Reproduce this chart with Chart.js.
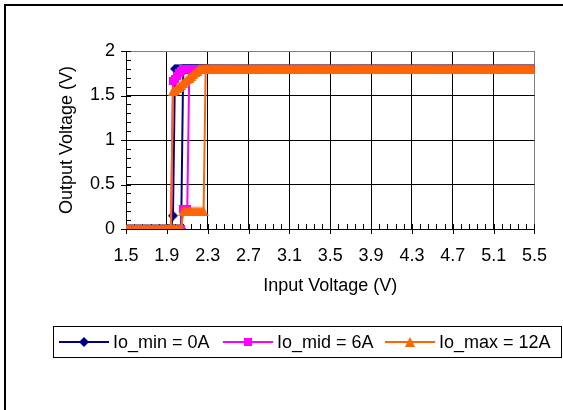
<!DOCTYPE html>
<html>
<head>
<meta charset="utf-8">
<script src="https://cdn.jsdelivr.net/npm/chart.js@4.4.1/dist/chart.umd.min.js"></script>
<style>
  html, body { margin: 0; padding: 0; background: #fff; }
  canvas { display: block; }
</style>
</head>
<body>
<canvas id="uvloChart" width="563" height="410"></canvas>
<script>
// input voltage, rising sweep (V)
const vinUp = [
  1.50, 1.52, 1.54, 1.56, 1.58, 1.60, 1.62, 1.64, 1.66, 1.68,
  1.70, 1.72, 1.74, 1.76, 1.78, 1.80, 1.82, 1.84, 1.86, 1.88,
  1.90, 1.92, 1.94, 1.96, 1.98, 2.00, 2.02, 2.04, 2.06, 2.08,
  2.10, 2.12, 2.14, 2.16, 2.18, 2.20, 2.22, 2.24, 2.26, 2.28,
  2.30, 2.32, 2.34, 2.36, 2.38, 2.40, 2.42, 2.44, 2.46, 2.48,
  2.50, 2.52, 2.54, 2.56, 2.58, 2.60, 2.62, 2.64, 2.66, 2.68,
  2.70, 2.72, 2.74, 2.76, 2.78, 2.80, 2.82, 2.84, 2.86, 2.88,
  2.90, 2.92, 2.94, 2.96, 2.98, 3.00, 3.02, 3.04, 3.06, 3.08,
  3.10, 3.12, 3.14, 3.16, 3.18, 3.20, 3.22, 3.24, 3.26, 3.28,
  3.30, 3.32, 3.34, 3.36, 3.38, 3.40, 3.42, 3.44, 3.46, 3.48,
  3.50, 3.52, 3.54, 3.56, 3.58, 3.60, 3.62, 3.64, 3.66, 3.68,
  3.70, 3.72, 3.74, 3.76, 3.78, 3.80, 3.82, 3.84, 3.86, 3.88,
  3.90, 3.92, 3.94, 3.96, 3.98, 4.00, 4.02, 4.04, 4.06, 4.08,
  4.10, 4.12, 4.14, 4.16, 4.18, 4.20, 4.22, 4.24, 4.26, 4.28,
  4.30, 4.32, 4.34, 4.36, 4.38, 4.40, 4.42, 4.44, 4.46, 4.48,
  4.50, 4.52, 4.54, 4.56, 4.58, 4.60, 4.62, 4.64, 4.66, 4.68,
  4.70, 4.72, 4.74, 4.76, 4.78, 4.80, 4.82, 4.84, 4.86, 4.88,
  4.90, 4.92, 4.94, 4.96, 4.98, 5.00, 5.02, 5.04, 5.06, 5.08,
  5.10, 5.12, 5.14, 5.16, 5.18, 5.20, 5.22, 5.24, 5.26, 5.28,
  5.30, 5.32, 5.34, 5.36, 5.38, 5.40, 5.42, 5.44, 5.46, 5.48,
  5.50
];

// input voltage, falling sweep through the hysteresis window (V)
const vinDown = [2.30, 2.28, 2.26, 2.24, 2.22, 2.20, 2.18, 2.16, 2.14, 2.12, 2.10,
                 2.08, 2.06, 2.04, 2.02, 2.00, 1.98, 1.96, 1.94, 1.92, 1.90];

// output voltage (V) - rising sweep
const ioMinUp = [
  0, 0, 0, 0, 0, 0, 0, 0, 0, 0,
  0, 0, 0, 0, 0, 0, 0, 0, 0, 0,
  0, 0, 0, 0, 0, 0, 0, 0, 1.8, 1.8,
  1.8, 1.8, 1.8, 1.8, 1.8, 1.8, 1.8, 1.8, 1.8, 1.8,
  1.8, 1.8, 1.8, 1.8, 1.8, 1.8, 1.8, 1.8, 1.8, 1.8,
  1.8, 1.8, 1.8, 1.8, 1.8, 1.8, 1.8, 1.8, 1.8, 1.8,
  1.8, 1.8, 1.8, 1.8, 1.8, 1.8, 1.8, 1.8, 1.8, 1.8,
  1.8, 1.8, 1.8, 1.8, 1.8, 1.8, 1.8, 1.8, 1.8, 1.8,
  1.8, 1.8, 1.8, 1.8, 1.8, 1.8, 1.8, 1.8, 1.8, 1.8,
  1.8, 1.8, 1.8, 1.8, 1.8, 1.8, 1.8, 1.8, 1.8, 1.8,
  1.8, 1.8, 1.8, 1.8, 1.8, 1.8, 1.8, 1.8, 1.8, 1.8,
  1.8, 1.8, 1.8, 1.8, 1.8, 1.8, 1.8, 1.8, 1.8, 1.8,
  1.8, 1.8, 1.8, 1.8, 1.8, 1.8, 1.8, 1.8, 1.8, 1.8,
  1.8, 1.8, 1.8, 1.8, 1.8, 1.8, 1.8, 1.8, 1.8, 1.8,
  1.8, 1.8, 1.8, 1.8, 1.8, 1.8, 1.8, 1.8, 1.8, 1.8,
  1.8, 1.8, 1.8, 1.8, 1.8, 1.8, 1.8, 1.8, 1.8, 1.8,
  1.8, 1.8, 1.8, 1.8, 1.8, 1.8, 1.8, 1.8, 1.8, 1.8,
  1.8, 1.8, 1.8, 1.8, 1.8, 1.8, 1.8, 1.8, 1.8, 1.8,
  1.8, 1.8, 1.8, 1.8, 1.8, 1.8, 1.8, 1.8, 1.8, 1.8,
  1.8, 1.8, 1.8, 1.8, 1.8, 1.8, 1.8, 1.8, 1.8, 1.8,
  1.8
];
const ioMidUp = [
  0, 0, 0, 0, 0, 0, 0, 0, 0, 0,
  0, 0, 0, 0, 0, 0, 0, 0, 0, 0,
  0, 0, 0, 0, 0, 0, 0, 0, 0.23, 0.23,
  0.23, 1.8, 1.8, 1.8, 1.8, 1.8, 1.8, 1.8, 1.8, 1.8,
  1.8, 1.8, 1.8, 1.8, 1.8, 1.8, 1.8, 1.8, 1.8, 1.8,
  1.8, 1.8, 1.8, 1.8, 1.8, 1.8, 1.8, 1.8, 1.8, 1.8,
  1.8, 1.8, 1.8, 1.8, 1.8, 1.8, 1.8, 1.8, 1.8, 1.8,
  1.8, 1.8, 1.8, 1.8, 1.8, 1.8, 1.8, 1.8, 1.8, 1.8,
  1.8, 1.8, 1.8, 1.8, 1.8, 1.8, 1.8, 1.8, 1.8, 1.8,
  1.8, 1.8, 1.8, 1.8, 1.8, 1.8, 1.8, 1.8, 1.8, 1.8,
  1.8, 1.8, 1.8, 1.8, 1.8, 1.8, 1.8, 1.8, 1.8, 1.8,
  1.8, 1.8, 1.8, 1.8, 1.8, 1.8, 1.8, 1.8, 1.8, 1.8,
  1.8, 1.8, 1.8, 1.8, 1.8, 1.8, 1.8, 1.8, 1.8, 1.8,
  1.8, 1.8, 1.8, 1.8, 1.8, 1.8, 1.8, 1.8, 1.8, 1.8,
  1.8, 1.8, 1.8, 1.8, 1.8, 1.8, 1.8, 1.8, 1.8, 1.8,
  1.8, 1.8, 1.8, 1.8, 1.8, 1.8, 1.8, 1.8, 1.8, 1.8,
  1.8, 1.8, 1.8, 1.8, 1.8, 1.8, 1.8, 1.8, 1.8, 1.8,
  1.8, 1.8, 1.8, 1.8, 1.8, 1.8, 1.8, 1.8, 1.8, 1.8,
  1.8, 1.8, 1.8, 1.8, 1.8, 1.8, 1.8, 1.8, 1.8, 1.8,
  1.8, 1.8, 1.8, 1.8, 1.8, 1.8, 1.8, 1.8, 1.8, 1.8,
  1.8
];
const ioMaxUp = [
  0, 0, 0, 0, 0, 0, 0, 0, 0, 0,
  0, 0, 0, 0, 0, 0, 0, 0, 0, 0,
  0, 0, 0, 0, 0, 0, 0, 0, 0.2, 0.2,
  0.2, 0.2, 0.2, 0.2, 0.2, 0.2, 0.2, 0.2, 0.2, 1.8,
  1.8, 1.8, 1.8, 1.8, 1.8, 1.8, 1.8, 1.8, 1.8, 1.8,
  1.8, 1.8, 1.8, 1.8, 1.8, 1.8, 1.8, 1.8, 1.8, 1.8,
  1.8, 1.8, 1.8, 1.8, 1.8, 1.8, 1.8, 1.8, 1.8, 1.8,
  1.8, 1.8, 1.8, 1.8, 1.8, 1.8, 1.8, 1.8, 1.8, 1.8,
  1.8, 1.8, 1.8, 1.8, 1.8, 1.8, 1.8, 1.8, 1.8, 1.8,
  1.8, 1.8, 1.8, 1.8, 1.8, 1.8, 1.8, 1.8, 1.8, 1.8,
  1.8, 1.8, 1.8, 1.8, 1.8, 1.8, 1.8, 1.8, 1.8, 1.8,
  1.8, 1.8, 1.8, 1.8, 1.8, 1.8, 1.8, 1.8, 1.8, 1.8,
  1.8, 1.8, 1.8, 1.8, 1.8, 1.8, 1.8, 1.8, 1.8, 1.8,
  1.8, 1.8, 1.8, 1.8, 1.8, 1.8, 1.8, 1.8, 1.8, 1.8,
  1.8, 1.8, 1.8, 1.8, 1.8, 1.8, 1.8, 1.8, 1.8, 1.8,
  1.8, 1.8, 1.8, 1.8, 1.8, 1.8, 1.8, 1.8, 1.8, 1.8,
  1.8, 1.8, 1.8, 1.8, 1.8, 1.8, 1.8, 1.8, 1.8, 1.8,
  1.8, 1.8, 1.8, 1.8, 1.8, 1.8, 1.8, 1.8, 1.8, 1.8,
  1.8, 1.8, 1.8, 1.8, 1.8, 1.8, 1.8, 1.8, 1.8, 1.8,
  1.8, 1.8, 1.8, 1.8, 1.8, 1.8, 1.8, 1.8, 1.8, 1.8,
  1.8
];

// output voltage (V) - falling sweep
const ioMinDown = [1.8, 1.8, 1.8, 1.8, 1.8, 1.8, 1.8, 1.8, 1.8, 1.8, 1.8,
                   1.8, 1.8, 1.8, 1.8, 1.8, 1.8, 0.15, 0, 0, 0];
const ioMidDown = [1.8, 1.8, 1.8, 1.8, 1.8, 1.8, 1.8, 1.8, 1.8, 1.8, 1.8,
                   1.8, 1.8, 1.78, 1.75, 1.72, 1.69, 1.66, 0, 0, 0];
const ioMaxDown = [1.8, 1.8, 1.8, 1.8, 1.8, 1.78, 1.76, 1.74, 1.72, 1.70, 1.68,
                   1.66, 1.64, 1.62, 1.60, 1.58, 1.56, 1.55, 0, 0, 0];

const seriesNames = ['Io_min = 0A', 'Io_mid = 6A', 'Io_max = 12A'];
const xTicks = [1.5, 1.9, 2.3, 2.7, 3.1, 3.5, 3.9, 4.3, 4.7, 5.1, 5.5];
const yTicks = [0, 0.5, 1, 1.5, 2];

const FONT = 'Liberation Sans, Arial, sans-serif';
const NAVY = '#000080';
const PINK = '#FF00FF';
const ORANGE = '#FF6600';

function sweep(yUp, yDown) {
    const up = vinUp.map((v, i) => ({ x: v, y: yUp[i] }));
    const down = vinDown.map((v, i) => ({ x: v, y: yDown[i] }));
    return up.concat(down);
}

// Excel markers are centred on their bounding box, so build them as little canvases
function makeMarker(shape, color) {
    const c = document.createElement('canvas');
    const size = shape === 'square' ? 8 : 10;
    c.width = size;
    c.height = size;
    const g = c.getContext('2d');
    g.fillStyle = color;
    g.beginPath();
    if (shape === 'diamond') {
        g.moveTo(0, 5);
        g.lineTo(5, 0);
        g.lineTo(10, 5);
        g.lineTo(5, 10);
    } else if (shape === 'square') {
        g.rect(0, 0, 8, 8);
    } else {
        g.moveTo(5, 0);
        g.lineTo(10, 10);
        g.lineTo(0, 10);
    }
    g.closePath();
    g.fill();
    return c;
}

const diamondMark = makeMarker('diamond', NAVY);
const squareMark = makeMarker('square', PINK);
const triangleMark = makeMarker('triangle', ORANGE);

// Excel-ish frame: outer border, crossing ticks, minor ticks and the boxed legend
const excelLook = {
    id: 'excelLook',
    beforeDraw(chart) {
        const ctx = chart.ctx;
        ctx.save();
        ctx.fillStyle = '#000';
        ctx.fillRect(4, 4, 2, chart.height - 4);
        ctx.fillRect(4, 4, chart.width - 4, 2);
        ctx.restore();
    },
    beforeDatasetsDraw(chart) {
        const { ctx, chartArea, scales } = chart;
        ctx.save();
        ctx.strokeStyle = '#000';
        ctx.lineWidth = 1;
        ctx.beginPath();
        for (let k = 0; k <= 20; k++) {
            const py = Math.round(scales.y.getPixelForValue(k * 0.1)) + 0.5;
            const major = k % 5 === 0;
            ctx.moveTo(chartArea.left - (major ? 5 : 0), py);
            ctx.lineTo(chartArea.left + 5, py);
        }
        for (let k = 0; k <= 50; k++) {
            const px = Math.round(scales.x.getPixelForValue(1.5 + k * 0.08)) + 0.5;
            const major = k % 5 === 0;
            ctx.moveTo(px, chartArea.bottom + (major ? 5 : 0));
            ctx.lineTo(px, chartArea.bottom - 5);
        }
        ctx.stroke();
        ctx.restore();
    },
    afterDraw(chart) {
        const ctx = chart.ctx;
        const starts = [59, 223, 385];
        const cy = 342;
        ctx.save();
        ctx.strokeStyle = '#000';
        ctx.lineWidth = 1;
        ctx.strokeRect(53.5, 326.5, 508, 31);
        ctx.font = '18px ' + FONT;
        ctx.textBaseline = 'middle';
        chart.data.datasets.forEach((ds, i) => {
            const x0 = starts[i];
            const mark = ds.pointStyle;
            ctx.strokeStyle = ds.borderColor;
            ctx.lineWidth = 2;
            ctx.beginPath();
            ctx.moveTo(x0, cy);
            ctx.lineTo(x0 + 50, cy);
            ctx.stroke();
            ctx.drawImage(mark, x0 + 25 - mark.width / 2, cy - mark.height / 2);
            ctx.fillStyle = '#000';
            ctx.fillText(ds.label, x0 + 54, cy + 1);
        });
        ctx.restore();
    }
};

new Chart(document.getElementById('uvloChart'), {
    type: 'scatter',
    data: {
        datasets: [
            {
                label: seriesNames[0],
                data: sweep(ioMinUp, ioMinDown),
                showLine: true,
                borderColor: NAVY,
                backgroundColor: NAVY,
                borderWidth: 2,
                pointStyle: diamondMark,
                pointRadius: 5,
                order: 3
            },
            {
                label: seriesNames[1],
                data: sweep(ioMidUp, ioMidDown),
                showLine: true,
                borderColor: PINK,
                backgroundColor: PINK,
                borderWidth: 2,
                pointStyle: squareMark,
                pointRadius: 5,
                order: 2
            },
            {
                label: seriesNames[2],
                data: sweep(ioMaxUp, ioMaxDown),
                showLine: true,
                borderColor: ORANGE,
                backgroundColor: ORANGE,
                borderWidth: 2,
                pointStyle: triangleMark,
                pointRadius: 5,
                order: 1
            }
        ]
    },
    options: {
        responsive: false,
        animation: false,
        devicePixelRatio: 1,
        layout: { padding: { left: 0, top: 51, right: 13, bottom: 111 } },
        plugins: {
            legend: { display: false },
            tooltip: { enabled: false }
        },
        scales: {
            x: {
                type: 'linear',
                min: 1.5,
                max: 5.5,
                afterBuildTicks: (scale) => { scale.ticks = xTicks.map(v => ({ value: v })); },
                afterFit: (scale) => { scale.height = 70; },
                ticks: {
                    autoSkip: false,
                    maxRotation: 0,
                    padding: 16,
                    color: '#000',
                    font: { family: FONT, size: 18 },
                    callback: (value) => value.toFixed(1)
                },
                grid: {
                    color: (ctx) => (ctx.tick && ctx.tick.value === 5.5 ? '#808080' : '#000'),
                    drawTicks: false,
                    lineWidth: 1
                },
                border: { color: '#000', width: 1 },
                title: {
                    display: true,
                    text: 'Input Voltage (V)',
                    color: '#000',
                    font: { family: FONT, size: 18 },
                    padding: { top: 0, bottom: 2 }
                }
            },
            y: {
                min: 0,
                max: 2,
                afterBuildTicks: (scale) => { scale.ticks = yTicks.map(v => ({ value: v })); },
                afterFit: (scale) => { scale.width = 126; },
                ticks: {
                    padding: 11,
                    color: '#000',
                    font: { family: FONT, size: 18 },
                    callback: (value) => String(value)
                },
                grid: {
                    color: (ctx) => (ctx.tick && ctx.tick.value === 2 ? '#808080' : '#000'),
                    drawTicks: false,
                    lineWidth: 1
                },
                border: { color: '#000', width: 1 },
                title: {
                    display: true,
                    text: 'Output Voltage (V)',
                    color: '#000',
                    font: { family: FONT, size: 18 },
                    padding: { top: 56, bottom: 0 }
                }
            }
        }
    },
    plugins: [excelLook]
});
</script>
</body>
</html>
